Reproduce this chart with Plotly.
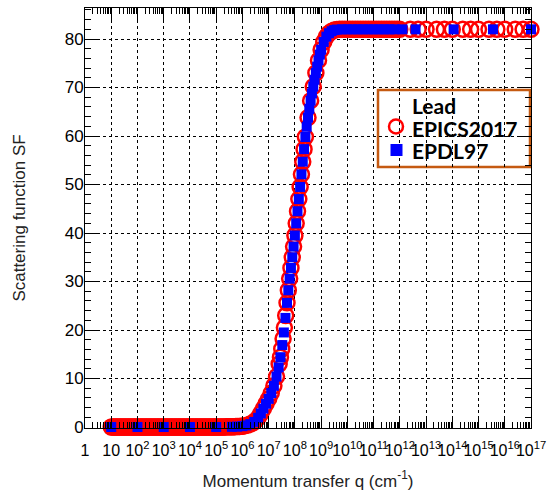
import plotly.graph_objects as go

# ---------------- data ----------------
# EPICS2017 : log10(q / cm^-1) and scattering function SF
epics_log_q = [
    1.00, 1.05, 1.10, 1.15, 1.20, 1.25, 1.30, 1.35, 1.40, 1.45,
    1.50, 1.55, 1.60, 1.65, 1.70, 1.75, 1.80, 1.85, 1.90, 1.95,
    2.00, 2.05, 2.10, 2.15, 2.20, 2.25, 2.30, 2.35, 2.40, 2.45,
    2.50, 2.55, 2.60, 2.65, 2.70, 2.75, 2.80, 2.85, 2.90, 2.95,
    3.00, 3.05, 3.10, 3.15, 3.20, 3.25, 3.30, 3.35, 3.40, 3.45,
    3.50, 3.55, 3.60, 3.65, 3.70, 3.75, 3.80, 3.85, 3.90, 3.95,
    4.00, 4.05, 4.10, 4.15, 4.20, 4.25, 4.30, 4.35, 4.40, 4.45,
    4.50, 4.55, 4.60, 4.65, 4.70, 4.75, 4.80, 4.85, 4.90, 4.95,
    5.00, 5.05, 5.10, 5.15, 5.20, 5.25, 5.30, 5.35, 5.40, 5.45,
    5.50, 5.55, 5.60, 5.65, 5.70, 5.75, 5.80, 5.85, 5.90, 5.95,
    6.0, 6.1, 6.2, 6.3, 6.4, 6.5, 6.6, 6.7, 6.8, 6.9,
    7.0, 7.1, 7.2, 7.3, 7.4, 7.45, 7.5, 7.55, 7.6, 7.65, 7.7, 7.75, 7.8, 7.85, 7.9, 7.95,
    8.0, 8.05, 8.1, 8.15, 8.2, 8.25, 8.3, 8.35, 8.4, 8.5, 8.6, 8.7, 8.8, 8.9,
    9.0, 9.1, 9.2, 9.3, 9.4, 9.5, 9.6, 9.7, 9.8, 9.9,
    10.0, 10.1, 10.2, 10.3, 10.4, 10.5, 10.6, 10.7, 10.8, 10.9,
    11.0, 11.1, 11.2, 11.3, 11.4, 11.5, 11.6, 11.7, 11.8, 11.9, 12.0,
    12.398, 12.699, 13.0, 13.398, 13.699, 14.0, 14.398, 14.699, 15.0,
    15.398, 15.699, 16.0, 16.398, 16.699, 17.0,
]
epics_sf = [
    0.0, 0.0, 0.0, 0.0, 0.0, 0.0, 0.0, 0.0, 0.0, 0.0,
    0.0, 0.0, 0.0, 0.0, 0.0, 0.0, 0.0, 0.0, 0.0, 0.0,
    0.0, 0.0, 0.0, 0.0, 0.0, 0.0, 0.0, 0.0, 0.0, 0.0,
    0.0, 0.0, 0.0, 0.0, 0.0, 0.0, 0.0, 0.0, 0.0, 0.0,
    0.0, 0.0, 0.0, 0.0, 0.0, 0.0, 0.0, 0.0, 0.0, 0.0,
    0.0, 0.0, 0.0, 0.0, 0.0, 0.0, 0.0, 0.0, 0.0, 0.0,
    0.001, 0.001, 0.001, 0.002, 0.002, 0.002, 0.002, 0.003, 0.003, 0.003,
    0.004, 0.004, 0.004, 0.005, 0.005, 0.006, 0.006, 0.007, 0.008, 0.009,
    0.010, 0.012, 0.014, 0.016, 0.019, 0.022, 0.026, 0.030, 0.035, 0.040,
    0.046, 0.052, 0.060, 0.068, 0.078, 0.088, 0.100, 0.115, 0.130, 0.150,
    0.18, 0.28, 0.4, 0.6, 0.88, 1.3, 1.9, 2.8, 3.8, 4.8,
    5.8, 7.0, 8.5, 10.4, 13.0, 14.4, 16.1, 18.2, 20.5, 23.0, 25.6, 28.2, 30.6, 32.8, 35.0, 37.2,
    39.5, 42.0, 44.5, 47.0, 49.5, 52.1, 54.7, 57.3, 59.8, 63.8, 67.3, 70.2, 73.0, 75.6,
    77.8, 79.4, 80.5, 81.2, 81.6, 81.85, 81.95, 82.0, 82.0, 82.0,
    82.0, 82.0, 82.0, 82.0, 82.0, 82.0, 82.0, 82.0, 82.0, 82.0,
    82.0, 82.0, 82.0, 82.0, 82.0, 82.0, 82.0, 82.0, 82.0, 82.0, 82.0,
    82.0, 82.0, 82.0, 82.0, 82.0, 82.0, 82.0, 82.0, 82.0,
    82.0, 82.0, 82.0, 82.0, 82.0, 82.0,
]

# EPDL97 : log10(q / cm^-1) and scattering function SF
epdl_log_q = [
    1.0, 2.0, 3.0, 4.0, 5.0, 5.6, 5.8, 6.0, 6.15, 6.3, 6.45, 6.6, 6.7, 6.8, 6.9,
    7.0, 7.1, 7.2, 7.3, 7.38, 7.45, 7.52, 7.58, 7.64, 7.7, 7.75, 7.8, 7.85, 7.9, 7.95,
    8.0, 8.05, 8.1, 8.15, 8.2, 8.25, 8.3, 8.35, 8.4, 8.45, 8.5, 8.55, 8.6, 8.65,
    8.7, 8.75, 8.8, 8.85, 8.9, 8.95, 9.0, 9.1, 9.2, 9.3, 9.4, 9.5, 9.6, 9.8,
    10.0, 10.2, 10.4, 10.6, 10.8, 11.0, 11.2, 11.4, 11.6, 11.8,
    12.1, 12.6, 14.05, 15.55, 17.0,
]
epdl_sf = [
    0.0, 0.0, 0.0, 0.0, 0.01, 0.04, 0.08, 0.18, 0.33, 0.6, 1.05, 1.9, 2.8, 3.8, 4.8,
    5.8, 7.0, 8.5, 10.4, 12.3, 14.4, 16.9, 19.5, 22.5, 25.6, 28.2, 30.6, 32.8, 35.0, 37.2,
    39.5, 42.0, 44.5, 47.0, 49.5, 52.1, 54.7, 57.3, 59.8, 61.9, 63.8, 65.6, 67.3, 68.8,
    70.2, 71.6, 73.0, 74.3, 75.6, 76.8, 77.8, 79.4, 80.5, 81.2, 81.6, 81.85, 81.95, 82.0,
    82.0, 82.0, 82.0, 82.0, 82.0, 82.0, 82.0, 82.0, 82.0, 82.0,
    82.0, 82.0, 82.0, 82.0, 82.0,
]

x_tick_exp = [0, 1, 2, 3, 4, 5, 6, 7, 8, 9, 10, 11, 12, 13, 14, 15, 16, 17]
x_tick_text = ["1", "10", "10<sup>2</sup>", "10<sup>3</sup>", "10<sup>4</sup>",
               "10<sup>5</sup>", "10<sup>6</sup>", "10<sup>7</sup>", "10<sup>8</sup>",
               "10<sup>9</sup>", "10<sup>10</sup>", "10<sup>11</sup>", "10<sup>12</sup>",
               "10<sup>13</sup>", "10<sup>14</sup>", "10<sup>15</sup>", "10<sup>16</sup>",
               "10<sup>17</sup>"]
y_tick_vals = [0, 10, 20, 30, 40, 50, 60, 70, 80]

legend_title = "Lead"
series_names = ["EPICS2017", "EPDL97"]

# ---------------- figure ----------------
W, H = 554, 495
ML, MR, MT, MB = 85, 23, 8, 67
PW, PH = W - ML - MR, H - MT - MB


def px_x(X):  # page pixel -> paper x
    return (X - ML) / PW


def px_y(Y):  # page pixel -> paper y
    return (H - MB - Y) / PH


RED = "#ff0000"
BLUE = "#0000ff"
LEG_BORDER = "#c55a11"

epics_q = [10 ** v for v in epics_log_q]
epdl_q = [10 ** v for v in epdl_log_q]
x_tick_vals = [10 ** v for v in x_tick_exp]

fig = go.Figure()
fig.add_trace(go.Scatter(
    x=epics_q, y=epics_sf, mode="markers", name=series_names[0],
    marker=dict(symbol="circle-open", size=15, color=RED, line=dict(width=2.5, color=RED)),
    cliponaxis=False,
))
fig.add_trace(go.Scatter(
    x=epdl_q, y=epdl_sf, mode="markers", name=series_names[1],
    marker=dict(symbol="square", size=10, color=BLUE, line=dict(width=0)),
    cliponaxis=False,
))

label_font = dict(family="Liberation Sans, Arial, sans-serif", size=16, color="#000000")
title_font = dict(family="Liberation Sans, Arial, sans-serif", size=17, color="#222222")
leg_font = dict(family="Lato, Open Sans, sans-serif", size=21, color="#000000")

# legend box, drawn as shapes + annotations
shapes = [
    dict(type="rect", xref="paper", yref="paper",
         x0=px_x(378), x1=px_x(530), y0=px_y(167), y1=px_y(90),
         line=dict(color=LEG_BORDER, width=2.5), fillcolor="white", layer="between"),
    dict(type="circle", xref="paper", yref="paper",
         xsizemode="pixel", ysizemode="pixel",
         xanchor=px_x(396), yanchor=px_y(126.5),
         x0=-7, x1=7, y0=-7, y1=7,
         line=dict(color=RED, width=2.5), fillcolor="rgba(0,0,0,0)", layer="above"),
    dict(type="rect", xref="paper", yref="paper",
         xsizemode="pixel", ysizemode="pixel",
         xanchor=px_x(396.5), yanchor=px_y(150),
         x0=-6, x1=6, y0=-6, y1=6,
         line=dict(width=0), fillcolor=BLUE, layer="above"),
]
legend_lines = [legend_title] + series_names
legend_y = [106, 128.5, 150.5]
annotations = [
    dict(text="<b>%s</b>" % t, xref="paper", yref="paper",
         x=px_x(410), y=px_y(yy), xanchor="left", yanchor="middle",
         showarrow=False, font=leg_font)
    for t, yy in zip(legend_lines, legend_y)
]

fig.update_layout(
    width=W, height=H,
    margin=dict(l=ML, r=MR, t=MT, b=MB, autoexpand=False),
    paper_bgcolor="white", plot_bgcolor="white",
    showlegend=False,
    shapes=shapes,
    annotations=annotations,
    xaxis=dict(
        type="log", range=[0, 17],
        tickmode="array", tickvals=x_tick_vals, ticktext=x_tick_text,
        tickangle=0, tickfont=label_font,
        ticks="inside", ticklen=12, tickwidth=1, tickcolor="black",
        ticklabelstandoff=8,
        showline=True, linecolor="black", linewidth=1, mirror="allticks",
        showgrid=True, gridcolor="black", gridwidth=1, griddash="dot",
        zeroline=False,
        minor=dict(ticks="inside", ticklen=6, tickcolor="black", dtick="D1", showgrid=False),
        title=dict(text="Momentum transfer q (cm<sup>-1</sup>)", font=title_font, standoff=16),
    ),
    yaxis=dict(
        range=[-0.2, 86.4],
        tickmode="array", tickvals=y_tick_vals,
        tickfont=dict(family="Liberation Sans, Arial, sans-serif", size=17, color="#000000"),
        ticks="inside", ticklen=12, tickwidth=1, tickcolor="black",
        ticklabelstandoff=-3,
        showline=True, linecolor="black", linewidth=1, mirror="allticks",
        showgrid=True, gridcolor="black", gridwidth=1, griddash="dot",
        zeroline=False,
        minor=dict(ticks="inside", ticklen=6, tickcolor="black", dtick=2, showgrid=False),
        title=dict(text="Scattering function SF", font=title_font, standoff=34),
    ),
)

# the page must start at the very top-left corner, as the reference does
fig.write_html("out.html", config={"displayModeBar": False},
               post_script="document.body.style.margin='0px';")
